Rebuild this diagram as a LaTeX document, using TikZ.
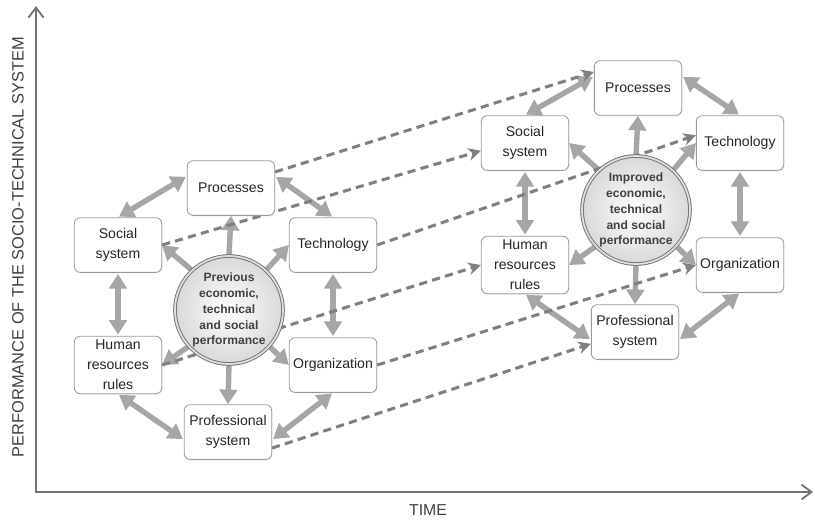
\documentclass[tikz,border=0pt]{standalone}
\usepackage{fontspec}
\setmainfont{Liberation Sans}
\usetikzlibrary{arrows.meta,shapes,shadows,backgrounds}

\begin{document}
\begin{tikzpicture}[x=0.03cm,y=-0.03cm,
  sysbox/.style={draw=black!40,fill=white,rounded corners=5pt,line width=0.7pt,
    minimum width=2.62cm,minimum height=1.64cm,align=center,text=black!85,
    font=\fontsize{12}{17}\selectfont,
    drop shadow={opacity=0.18,shadow xshift=0.6pt,shadow yshift=-0.8pt}},
  perf/.style={circle,minimum size=3.24cm,inner sep=0pt,align=center,
    font=\bfseries\fontsize{10.3}{13.6}\selectfont,text=black!75,
    draw=black!55,double=black!12,double distance=1.5pt,line width=0.8pt,
    inner color=white,outer color=black!15},
  twoway/.style={black!35,line width=4.6pt,
    {Triangle[length=0.44cm,width=0.52cm]}-{Triangle[length=0.44cm,width=0.52cm]},
    shorten <=1pt,shorten >=1pt},
  outward/.style={black!35,line width=4.6pt,-{Triangle[length=0.44cm,width=0.52cm]}},
  drift/.style={black!50,line width=2.6pt,dash pattern=on 7pt off 4.5pt,
    -{Stealth[length=0.38cm,width=0.38cm]}},
  axis/.style={black!55,line width=1.6pt,
    {Straight Barb[length=0.3cm,width=0.45cm]}-{Straight Barb[length=0.3cm,width=0.45cm]}}]
\useasboundingbox (0,0) rectangle (815,522);

%axes
\coordinate (ytop) at (36,6);
\coordinate (xend) at (813,492);
\draw[axis] (ytop) |- (xend);
\node[rotate=90,text=black!75,font=\fontsize{14}{16}\selectfont] (ylab) at (18,247)
{PERFORMANCE OF THE SOCIO-TECHNICAL SYSTEM};
\node[text=black!75,font=\fontsize{13.5}{16}\selectfont] (xlab) at (428,510) {TIME};

%Previous
\node[perf] (pc) at (229,310) {Previous\\economic,\\technical\\and social\\performance};
\node[sysbox] (pp) at (231,188) {Processes};
\node[sysbox] (ss) at (118,245) {Social\\system};
\node[sysbox] (ts) at (333,245) {Technology};
\node[sysbox] (hr) at (118,365) {Human\\resources\\rules};
\node[sysbox] (og) at (333,365) {Organization};
\node[sysbox] (pf) at (228,432) {Professional\\system};

%Improved
\node[perf] (pc2) at (636,210) {Improved\\economic,\\technical\\and social\\performance};
\node[sysbox] (pp2) at (638,88) {Processes};
\node[sysbox] (ss2) at (525,143) {Social\\system};
\node[sysbox] (ts2) at (740,143) {Technology};
\node[sysbox] (hr2) at (525,265) {Human\\resources\\rules};
\node[sysbox] (og2) at (740,265) {Organization};
\node[sysbox] (pf2) at (635,332) {Professional\\system};

\begin{scope}[on background layer]
% links round the ring
\draw[twoway] (ss.north) -- (pp.165);
\draw[twoway] (pp.15) -- (ts.north);
\draw[twoway] (ss.south) -- (hr.north);
\draw[twoway] (ts.south) -- (og.north);
\draw[twoway] (hr.south) -- (pf.190);
\draw[twoway] (pf.-10) -- (og.south);
\draw[twoway] (ss2.north) -- (pp2.165);
\draw[twoway] (pp2.15) -- (ts2.north);
\draw[twoway] (ss2.south) -- (hr2.north);
\draw[twoway] (ts2.south) -- (og2.north);
\draw[twoway] (hr2.south) -- (pf2.190);
\draw[twoway] (pf2.-10) -- (og2.south);

% from the centre
\draw[outward] (pc.north) -- (pp.south);
\draw[outward] (pc.133) -- (ss.east);
\draw[outward] (pc.47) -- (ts.west);
\draw[outward] (pc.222) -- (hr.east);
\draw[outward] (pc.-42) -- (og.west);
\draw[outward] (pc.south) -- (pf.north);
\draw[outward] (pc2.north) -- (pp2.south);
\draw[outward] (pc2.133) -- (ss2.east);
\draw[outward] (pc2.47) -- (ts2.west);
\draw[outward] (pc2.222) -- (hr2.east);
\draw[outward] (pc2.-42) -- (og2.west);
\draw[outward] (pc2.south) -- (pf2.north);

% dashed shifts
\draw[drift] (pp.20) -- (pp2.160);
\draw[drift] (ss.east) -- (ss2.190);
\draw[drift] (ts.east) -- (ts2.170);
\draw[drift] (hr.east) -- (hr2.west);
\draw[drift] (og.east) -- (og2.west);
\draw[drift] (pf.-20) -- (pf2.195);
\end{scope}

\end{tikzpicture}
\end{document}
